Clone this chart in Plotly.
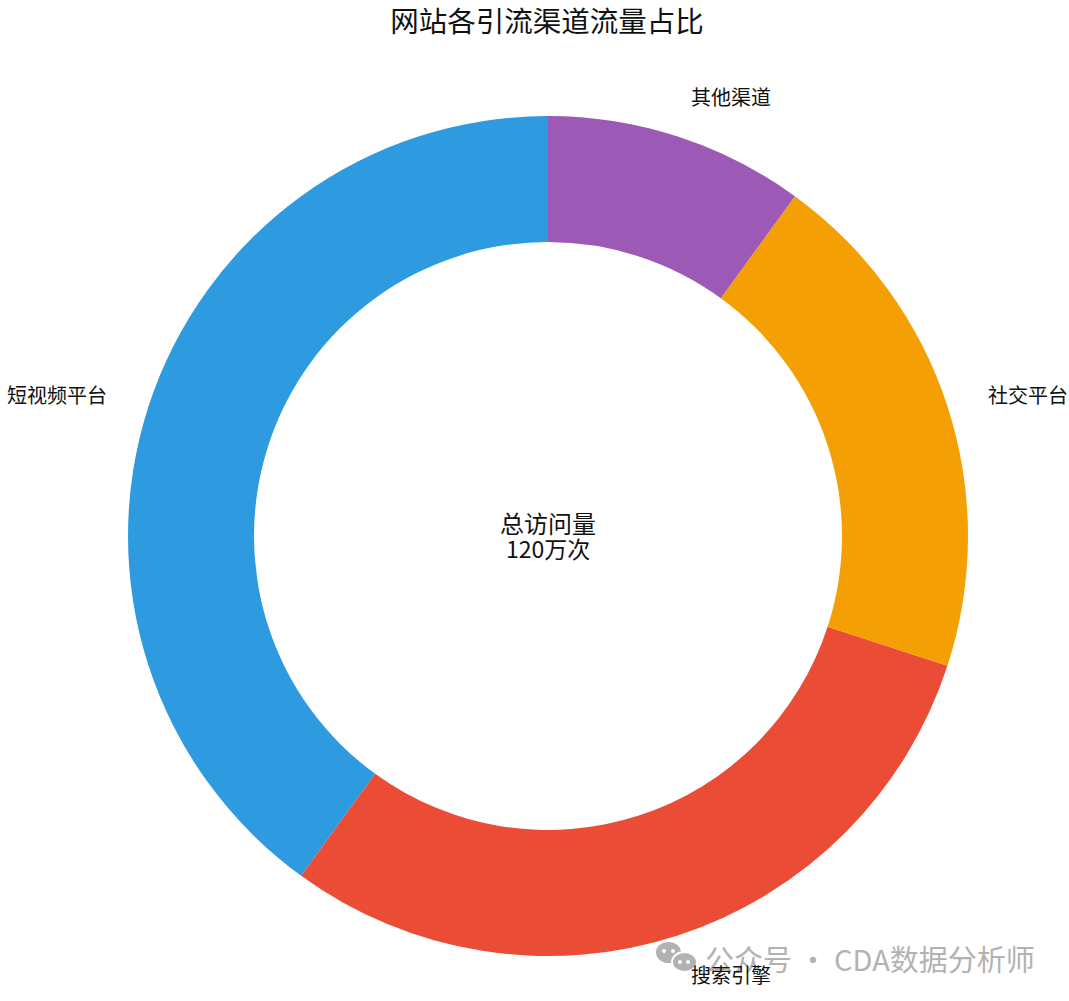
import plotly.graph_objects as go

channels = ["短视频平台", "搜索引擎", "社交平台", "其他渠道"]
shares = [40, 30, 20, 10]
colors = ["#2E9BE0", "#EB4C36", "#F49F03", "#9C59B6"]

TITLE = "网站各引流渠道流量占比"
CENTER_LINES = ["总访问量", "120万次"]
WATERMARK = "公众号 · CDA数据分析师"

FONT = "Noto Sans CJK SC, sans-serif"
INK = "#111111"
GREY = "#B2B2B2"

W, H = 1069, 1001


def px(x):
    return x / W


def py(y):
    return 1 - y / H


def note(fig, text, x, y, size, color=INK):
    fig.add_annotation(
        text=text, x=px(x), y=py(y), xref="paper", yref="paper",
        xanchor="center", yanchor="middle",
        showarrow=False, font={"size": size, "color": color},
    )


def circle(fig, x0, y0, x1, y1, color):
    fig.add_shape(
        type="circle", xref="paper", yref="paper",
        x0=px(x0), x1=px(x1), y0=py(y1), y1=py(y0),
        fillcolor=color, line={"width": 0},
    )


fig = go.Figure(
    go.Pie(
        labels=channels,
        values=shares,
        hole=0.7,
        sort=False,
        direction="counterclockwise",
        rotation=-144,  # ccw pies start from the far end of the first slice
        marker={"colors": colors, "line": {"width": 0}},
        textinfo="none",
        hoverinfo="label+percent",
        domain={"x": [px(128), px(968)], "y": [py(956), py(116)]},
        showlegend=False,
    )
)

# watermark first so the category label stays on top of it
note(fig, WATERMARK, 870, 958, 29, GREY)

# category labels outside the ring
label_spots = [(57, 394), (731, 974), (1028, 394), (731, 97)]
for text, (x, y) in zip(channels, label_spots):
    note(fig, text, x, y, 20)

note(fig, CENTER_LINES[0], 548, 522, 24)
note(fig, CENTER_LINES[1], 548, 548, 23)

# wechat style bubbles in front of the watermark
circle(fig, 656, 942, 681, 963, GREY)
circle(fig, 671, 951, 698, 973, "white")
circle(fig, 673, 953, 696, 971, GREY)
for x0, y0 in [(662, 949), (671, 949), (678, 960), (686, 960)]:
    circle(fig, x0, y0, x0 + 4, y0 + 4, "white")

fig.update_layout(
    title={"text": TITLE, "x": px(547), "xanchor": "center", "y": py(22), "yanchor": "middle",
           "font": {"size": 28.5, "color": INK}},
    font={"family": FONT},
    width=W,
    height=H,
    margin={"l": 0, "r": 0, "t": 0, "b": 0},
    paper_bgcolor="white",
)

# default body margin would push the figure 8px in and clip the right label
fig.write_html(
    "out.html",
    config={"displayModeBar": False},
    post_script="document.body.style.margin = '0';",
)
